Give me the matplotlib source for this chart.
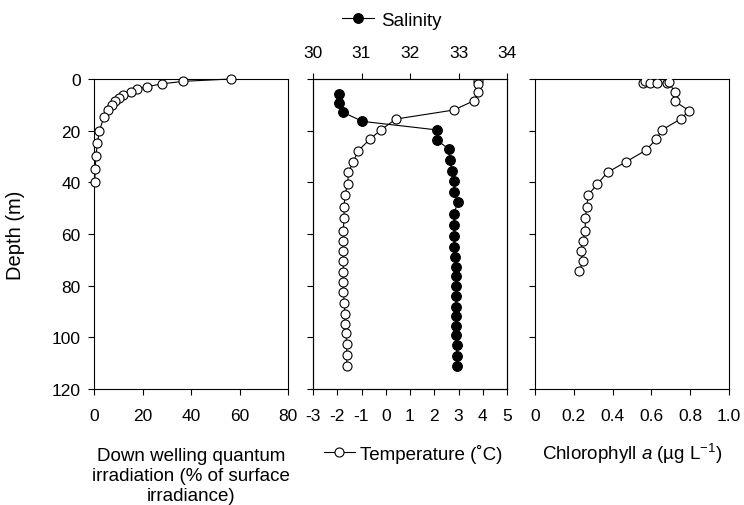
import matplotlib

matplotlib.use("Agg")
import matplotlib.pyplot as plt
from matplotlib.lines import Line2D

plt.rcParams["font.family"] = ["Liberation Sans", "DejaVu Sans"]
plt.rcParams["mathtext.fontset"] = "custom"
plt.rcParams["mathtext.rm"] = "Liberation Sans"
plt.rcParams["mathtext.it"] = "Liberation Sans:italic"
plt.rcParams["axes.unicode_minus"] = False

# irradiance (% of surface) vs depth (m)
irr_depth = [0, 0.9, 1.9, 3.0, 3.9, 4.9, 6.2, 7.4, 8.6, 9.9, 11.9, 14.8, 20, 24.9, 29.9, 34.8, 39.7]
irr_val = [56.4, 36.8, 27.9, 21.7, 17.9, 15.1, 12.1, 10.3, 8.7, 7.3, 5.9, 4.1, 2.2, 1.4, 0.8, 0.5, 0.3]

# temperature (C) vs depth
temp_depth = [0.6, 1.9, 4.9, 8.4, 12.0, 15.5, 19.7, 23.2, 27.7, 32.0, 36.1, 40.5, 44.9, 49.4, 53.9,
              58.7, 62.8, 66.5, 70.6, 74.6, 78.5, 82.3, 86.8, 91.0, 94.8, 98.4, 102.6, 106.7, 111.0]
temp_val = [3.82, 3.82, 3.82, 3.64, 2.81, 0.42, -0.20, -0.64, -1.13, -1.34, -1.54, -1.57, -1.68, -1.72, -1.72,
            -1.75, -1.75, -1.75, -1.75, -1.75, -1.75, -1.75, -1.71, -1.68, -1.68, -1.65, -1.61, -1.61, -1.61]

# salinity vs depth
sal_depth = [5.8, 9.3, 12.9, 16.4, 19.7, 23.6, 27.1, 31.4, 35.5, 39.5, 43.6, 47.7, 52.3, 56.5, 60.9,
             64.9, 68.8, 72.6, 76.4, 80.0, 83.9, 88.1, 91.9, 95.5, 99.1, 103.0, 107.1, 111.2]
sal_val = [30.54, 30.54, 30.62, 31.02, 32.55, 32.55, 32.80, 32.82, 32.86, 32.91, 32.91, 32.98, 32.91, 32.91, 32.91,
           32.91, 32.93, 32.94, 32.94, 32.94, 32.94, 32.94, 32.94, 32.94, 32.94, 32.96, 32.96, 32.96]

# chlorophyll a vs depth
chl_depth = [1.5, 0.6, 1.5, 1.7, 1.5, 1.0, 5.2, 8.6, 12.3, 15.5, 19.7, 23.2, 27.5, 32.0, 36.1, 40.6,
             44.9, 49.4, 53.9, 58.7, 62.6, 66.5, 70.6, 74.5]
chl_val = [0.557, 0.569, 0.595, 0.63, 0.68, 0.69, 0.72, 0.72, 0.795, 0.75, 0.655, 0.626, 0.573, 0.471, 0.374,
           0.322, 0.274, 0.267, 0.259, 0.259, 0.247, 0.236, 0.247, 0.228]

W, H = 744, 506
fig = plt.figure(figsize=(W / 100, H / 100), dpi=100)


def add_ax(x0, x1, y0=80, y1=390):
    return fig.add_axes([x0 / W, 1 - y1 / H, (x1 - x0) / W, (y1 - y0) / H])


ax1 = add_ax(94, 288)
ax2 = add_ax(313, 507)
ax3 = add_ax(535, 729)

line_kw = dict(color="black", lw=0.8)
open_mk = dict(marker="o", ms=6.5, mfc="white", mec="black", mew=0.8)
fill_mk = dict(marker="o", ms=7, mfc="black", mec="black", mew=0.8)

ax1.plot(irr_val, irr_depth, **line_kw, **open_mk, clip_on=False, zorder=3)
ax2.plot(temp_val, temp_depth, **line_kw, **open_mk, zorder=3)
axs = ax2.twiny()
axs.plot(sal_val, sal_depth, **line_kw, **fill_mk, zorder=3)
ax3.plot(chl_val, chl_depth, **line_kw, **open_mk, zorder=3)

for ax in (ax1, ax2, ax3, axs):
    ax.set_ylim(120, 0)
    ax.set_yticks(range(0, 121, 20))
    for s in ax.spines.values():
        s.set_linewidth(0.8)
    ax.tick_params(direction="out", length=4.5, width=0.8, labelsize=12.5, pad=9)

ax1.tick_params(axis="y", pad=5)
ax2.tick_params(axis="y", labelleft=False)
ax3.tick_params(axis="y", labelleft=False)

ax1.set_xlim(0, 80)
ax1.set_xticks(range(0, 81, 20))
ax2.set_xlim(-3, 5)
ax2.set_xticks(range(-3, 6))
axs.set_xlim(30, 34)
axs.set_xticks(range(30, 35))
axs.tick_params(axis="x", pad=9)
ax3.set_xlim(0, 1.0)
ax3.set_xticks([0, 0.2, 0.4, 0.6, 0.8, 1.0])
ax3.set_xticklabels(["0", "0.2", "0.4", "0.6", "0.8", "1.0"])

ax1.set_ylabel("Depth (m)", fontsize=14.5, labelpad=19)

fig.text(191 / W, 1 - 448 / H, "Down welling quantum\nirradiation (% of surface\nirradiance)",
         ha="center", va="top", fontsize=13.5, linespacing=1.25)
fig.text(632 / W, 1 - 454 / H, r"Chlorophyll $\mathit{a}$ (µg L$^{-1}$)",
         ha="center", va="center", fontsize=13.5)

sal_h = Line2D([], [], **line_kw, **fill_mk)
temp_h = Line2D([], [], **line_kw, **open_mk)
fig.legend([sal_h], ["Salinity"], loc="center", bbox_to_anchor=(392 / W, 1 - 21 / H),
           frameon=False, fontsize=13.5, handlelength=1.7, handletextpad=0.4, borderpad=0)
fig.legend([temp_h], ["Temperature (˚C)"], loc="center", bbox_to_anchor=(413 / W, 1 - 454 / H),
           frameon=False, fontsize=13.5, handlelength=1.7, handletextpad=0.25, borderpad=0)

fig.savefig("out.png", dpi=100)
